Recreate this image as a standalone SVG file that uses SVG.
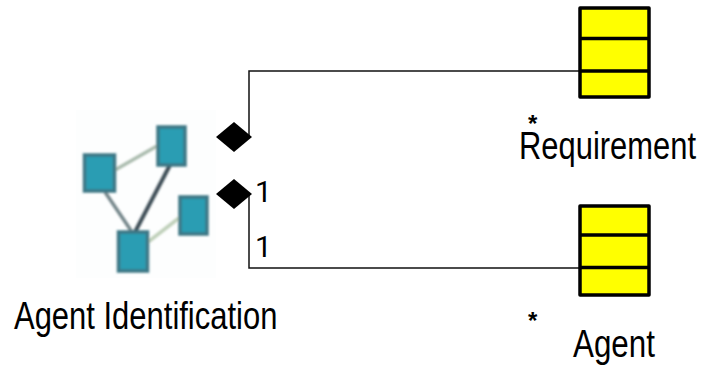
<svg xmlns="http://www.w3.org/2000/svg" width="703" height="367" viewBox="0 0 703 367">
<defs>
<filter id="soft" x="-10%" y="-10%" width="120%" height="120%"><feGaussianBlur stdDeviation="1.2"/></filter>
</defs>
<style>
.t{font-family:"Liberation Sans",Arial,sans-serif;font-size:38px;fill:#000}
.m{font-family:Roboto,"Liberation Sans",sans-serif;font-size:30px;fill:#000}
.s{font-family:"Liberation Sans",Arial,sans-serif;font-size:24px;font-weight:bold;fill:#000}
.box{fill:#ffff00;stroke:#000;stroke-width:3.5;stroke-linejoin:round}
.sep{stroke:#000;stroke-width:3.5}
.conn{fill:none;stroke:#111;stroke-width:1.5}
.sq{fill:#2a9db3;stroke:#3d7785;stroke-width:3.500}
</style>
<rect width="703" height="367" fill="#fff"/>
<g id="connectors">
<path class="conn" d="M249 136V71H579"/>
<path class="conn" d="M249 195V268H579"/>
</g>
<g id="agent-identification">
<rect x="76" y="110" width="140" height="168" fill="#fdfefe"/>
<g filter="url(#soft)">
<path d="M115 170L157 146" stroke="#aabbae" stroke-width="3.500" fill="none"/>
<path d="M105 192L132 232" stroke="#74868a" stroke-width="3.500" fill="none"/>
<path d="M170 165L135 232" stroke="#3f5058" stroke-width="4" fill="none"/>
<path d="M148 242L179 218" stroke="#bfd0ba" stroke-width="3.500" fill="none"/>
<rect class="sq" x="84.500" y="155" width="30" height="36"/>
<rect class="sq" x="158" y="127" width="27" height="38"/>
<rect class="sq" x="180" y="197" width="27" height="37"/>
<rect class="sq" x="118.500" y="232" width="29" height="39"/>
</g>
<text class="t" transform="translate(14 329) scale(0.815 1)">Agent Identification</text>
</g>
<g id="diamonds">
<path d="M234 122L252 137L234 152L216 137Z" fill="#000"/>
<path d="M234 179L252 194L234 209L216 194Z" fill="#000"/>
</g>
<g id="requirement">
<rect class="box" x="580" y="8" width="69" height="89"/>
<path class="sep" d="M580 38.500H649M580 71H649"/>
<text class="s" x="528" y="132">*</text>
<text class="t" transform="translate(519 159) scale(0.814 1)">Requirement</text>
</g>
<g id="agent">
<rect class="box" x="580" y="206" width="69" height="89"/>
<path class="sep" d="M580 235H649M580 267.500H649"/>
<text class="s" x="528" y="329">*</text>
<text class="t" transform="translate(573 357) scale(0.825 1)">Agent</text>
</g>
<g id="multiplicities">
<text class="m" x="255" y="202">1</text>
<text class="m" x="255" y="257">1</text>
</g>
</svg>
